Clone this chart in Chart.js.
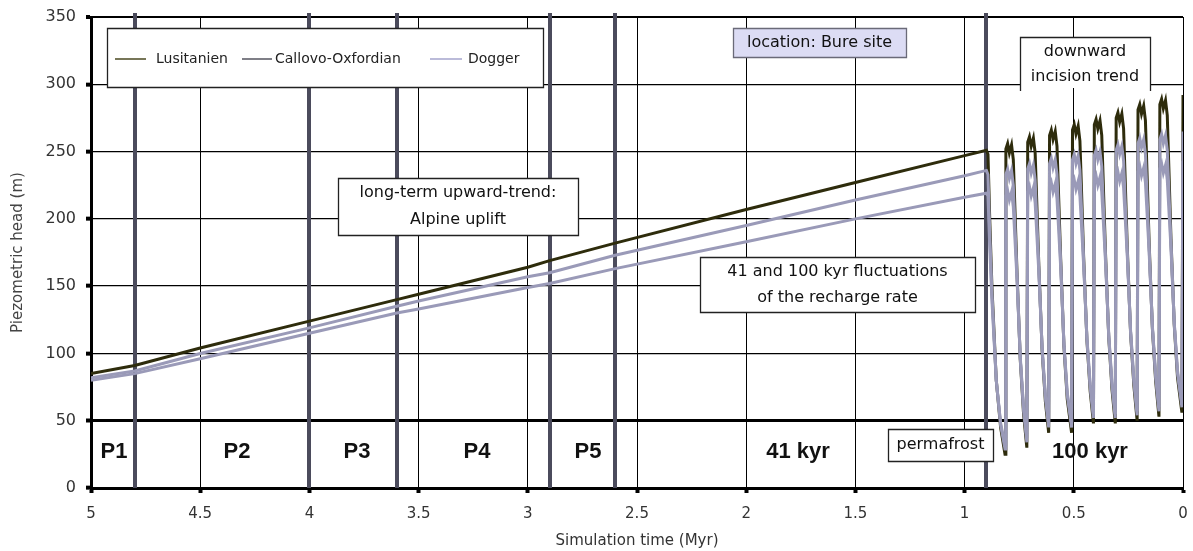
<!DOCTYPE html>
<html>
<head>
<meta charset="utf-8">
<script src="https://cdn.jsdelivr.net/npm/chart.js@4.4.0/dist/chart.umd.min.js"></script>
<style>
  html, body { margin: 0; padding: 0; background: #fff; }
</style>
</head>
<body>
<canvas id="chart" width="1193" height="551"></canvas>
<script>
// Simulation time (Myr) shared by all three series
const times = [
  5.0, 4.8, 4.5, 4.0, 3.6, 3.5, 3.0, 2.9, 2.6, 2.0, 1.5, 1.0, 0.9,
  0.893, 0.885, 0.875, 0.855, 0.835, 0.815,
  0.811, 0.803, 0.795, 0.785, 0.777, 0.76, 0.745, 0.73, 0.715,
  0.711, 0.703, 0.695, 0.685, 0.677, 0.66, 0.645, 0.63, 0.615,
  0.611, 0.603, 0.595, 0.585, 0.577, 0.56, 0.545, 0.53, 0.51,
  0.506, 0.498, 0.49, 0.48, 0.472, 0.455, 0.44, 0.425, 0.41,
  0.406, 0.398, 0.39, 0.38, 0.372, 0.355, 0.34, 0.325, 0.31,
  0.306, 0.298, 0.29, 0.28, 0.272, 0.255, 0.24, 0.225, 0.21,
  0.206, 0.198, 0.19, 0.18, 0.172, 0.155, 0.14, 0.125, 0.11,
  0.106, 0.098, 0.09, 0.08, 0.072, 0.055, 0.04, 0.025, 0.005,
  0.0
];

// Piezometric head (m)
const lusitanien = [
  85, 91, 104, 124, 140, 144, 164, 169, 182, 207, 227, 247, 251,
  248, 200, 150, 80, 45, 25,
  252, 256, 249, 255, 244, 160, 95, 55, 30,
  257, 261, 254, 260, 249, 165, 102, 64, 41,
  262, 266, 259, 265, 254, 170, 105, 66, 41,
  266, 270, 263, 269, 258, 172, 110, 72, 48,
  270, 274, 267, 273, 262, 175, 112, 73, 48,
  275, 279, 272, 278, 267, 178, 115, 76, 50,
  281, 285, 278, 284, 273, 182, 118, 79, 53,
  285, 289, 282, 288, 277, 185, 121, 82, 56,
  292
];

const callovoOxfordian = [
  82, 87, 100, 119, 135, 139, 157, 160, 173, 195, 214, 232, 236,
  233, 190, 145, 80, 47, 29,
  233, 237, 230, 236, 225, 158, 96, 58, 34,
  237, 241, 234, 240, 229, 163, 103, 67, 45,
  241, 245, 238, 244, 233, 167, 106, 69, 45,
  244, 248, 241, 247, 236, 169, 111, 75, 52,
  247, 251, 244, 250, 239, 172, 113, 76, 52,
  251, 255, 248, 254, 243, 175, 116, 79, 54,
  256, 260, 253, 259, 248, 178, 119, 82, 57,
  259, 263, 256, 262, 251, 181, 122, 85, 60,
  265
];

const dogger = [
  80, 85, 96, 115, 130, 133, 149, 152, 163, 183, 200, 216, 219,
  217, 180, 140, 80, 48, 32,
  217, 221, 214, 220, 209, 155, 97, 60, 37,
  220, 224, 217, 223, 212, 160, 104, 69, 48,
  223, 227, 220, 226, 215, 164, 107, 71, 48,
  225, 229, 222, 228, 217, 166, 112, 77, 55,
  228, 232, 225, 231, 220, 169, 114, 78, 55,
  231, 235, 228, 234, 223, 172, 117, 81, 57,
  235, 239, 232, 238, 227, 175, 120, 84, 60,
  237, 241, 234, 240, 229, 178, 123, 87, 63,
  243
];

const seriesNames = ["Lusitanien", "Callovo-Oxfordian", "Dogger"];
const xTicks = [5, 4.5, 4, 3.5, 3, 2.5, 2, 1.5, 1, 0.5, 0];
const yTicks = [0, 50, 100, 150, 200, 250, 300, 350];
const periodBounds = [4.8, 4.0, 3.6, 2.9, 2.6, 0.9];
const periodLabels = ["P1", "P2", "P3", "P4", "P5", "41 kyr", "100 kyr"];

const lineColors = ["#2e2c0c", "#9a9ab8", "#9a9ab8"];
const legendColors = ["#4a4820", "#55555f", "#a4a4cc"];

function pts(vals) {
  return times.map((t, i) => ({ x: t, y: vals[i] }));
}

function drawBox(ctx, l, t, r, b, fill, stroke, openBottom) {
  ctx.save();
  ctx.fillStyle = fill;
  ctx.fillRect(l, t, r - l, b - t);
  ctx.strokeStyle = stroke;
  ctx.lineWidth = 1.3;
  ctx.beginPath();
  if (openBottom) {
    ctx.moveTo(l + 0.5, b + 3); ctx.lineTo(l + 0.5, t + 0.5);
    ctx.lineTo(r + 0.5, t + 0.5); ctx.lineTo(r + 0.5, b + 3);
  } else {
    ctx.rect(l + 0.5, t + 0.5, r - l, b - t);
  }
  ctx.stroke();
  ctx.restore();
}

// text boxes on the plot
const notes = [
  { lines: ["location: Bure site"], box: [733, 28, 906, 57], ys: [43], fill: "#dcdcf4", stroke: "#6a6a78" },
  { lines: ["downward", "incision trend"], box: [1020, 37, 1150, 88], ys: [52, 77], open: true },
  { lines: ["long-term upward-trend:", "Alpine uplift"], box: [338, 178, 578, 235], ys: [193, 220] },
  { lines: ["41 and 100 kyr fluctuations", "of the recharge rate"], box: [700, 257, 975, 312], ys: [272, 298] },
  { lines: ["permafrost"], box: [888, 429, 993, 461], ys: [445] }
];
const bandLabelX = [114, 237, 357, 477, 588, 798, 1090];

const overlay = {
  id: "overlay",
  beforeDatasetsDraw(chart) {
    const { ctx, chartArea: a, scales: { x } } = chart;
    ctx.save();
    ctx.strokeStyle = "#4b4b5c";
    ctx.lineWidth = 4;
    periodBounds.forEach(t => {
      const px = Math.round(x.getPixelForValue(t));
      ctx.beginPath();
      ctx.moveTo(px, a.top - 4);
      ctx.lineTo(px, a.bottom);
      ctx.stroke();
    });
    ctx.restore();
  },
  afterDatasetsDraw(chart) {
    const { ctx } = chart;
    ctx.save();

    // period labels
    ctx.fillStyle = "#111";
    ctx.font = "bold 22px 'Liberation Sans', Arial, sans-serif";
    ctx.textAlign = "center";
    ctx.textBaseline = "middle";
    periodLabels.forEach((lab, i) => ctx.fillText(lab, bandLabelX[i], 452));

    // annotation boxes
    notes.forEach(n => {
      const [l, t, r, b] = n.box;
      drawBox(ctx, l, t, r, b, n.fill || "#fff", n.stroke || "#222", n.open);
      ctx.fillStyle = "#111";
      ctx.font = "16px 'DejaVu Sans', sans-serif";
      ctx.textAlign = "center";
      ctx.textBaseline = "middle";
      n.lines.forEach((s, i) => ctx.fillText(s, (l + r) / 2, n.ys[i]));
    });

    // legend
    drawBox(ctx, 107, 28, 543, 87, "#fff", "#222", false);
    const sample = [[115, 146, 156], [242, 272, 275], [430, 462, 468]];
    ctx.font = "14px 'DejaVu Sans', sans-serif";
    ctx.textAlign = "left";
    ctx.textBaseline = "middle";
    seriesNames.forEach((name, i) => {
      const [x1, x2, tx] = sample[i];
      ctx.strokeStyle = legendColors[i];
      ctx.lineWidth = 1.5;
      ctx.beginPath();
      ctx.moveTo(x1, 59);
      ctx.lineTo(x2, 59);
      ctx.stroke();
      ctx.fillStyle = "#222";
      ctx.fillText(name, tx, 59);
    });
    ctx.restore();
  }
};

const seriesValues = [lusitanien, callovoOxfordian, dogger];

const ctx = document.getElementById("chart").getContext("2d");
const chart = new Chart(ctx, {
  type: "line",
  data: {
    datasets: seriesNames.map((name, i) => ({
      label: name,
      data: pts(seriesValues[i]),
      borderColor: lineColors[i],
      borderWidth: 3,
      pointRadius: 0,
      tension: 0,
      fill: false,
      order: 2 - i
    }))
  },
  options: {
    responsive: false,
    animation: false,
    layout: { padding: { left: 0, top: 17, right: 10, bottom: 0 } },
    plugins: {
      legend: { display: false },
      tooltip: { enabled: false }
    },
    scales: {
      x: {
        type: "linear",
        reverse: true,
        min: 0,
        max: 5,
        afterBuildTicks: s => { s.ticks = xTicks.map(v => ({ value: v })); },
        afterFit: s => { s.height = 63; s.paddingLeft = 0; s.paddingRight = 0; },
        ticks: {
          color: "#333",
          padding: 12,
          maxRotation: 0,
          font: { family: "'DejaVu Sans', sans-serif", size: 15 },
          callback: v => String(v)
        },
        grid: { color: "#000", lineWidth: 1, tickLength: 5, tickWidth: 4, tickColor: "#000" },
        border: { display: true, color: "#000", width: 3 },
        title: {
          display: true,
          text: "Simulation time (Myr)",
          color: "#333",
          font: { family: "'DejaVu Sans', sans-serif", size: 15 },
          padding: { top: 0, bottom: 1 }
        }
      },
      y: {
        min: 0,
        max: 350,
        afterBuildTicks: s => { s.ticks = yTicks.map(v => ({ value: v })); },
        afterFit: s => { s.width = 91; s.paddingTop = 0; s.paddingBottom = 0; },
        ticks: {
          color: "#333",
          padding: 10,
          font: { family: "'DejaVu Sans', sans-serif", size: 16 }
        },
        grid: {
          color: "#000",
          lineWidth: c => (c.tick && c.tick.value === 50) ? 3 : (c.tick && c.tick.value === 350 ? 2 : 1.3),
          tickLength: 5,
          tickWidth: 4,
          tickColor: "#000"
        },
        border: { display: true, color: "#000", width: 3 },
        title: {
          display: true,
          text: "Piezometric head (m)",
          color: "#444",
          font: { family: "'DejaVu Sans', sans-serif", size: 15 },
          padding: { top: 9, bottom: 0 }
        }
      }
    }
  },
  plugins: [overlay]
});
</script>
</body>
</html>
